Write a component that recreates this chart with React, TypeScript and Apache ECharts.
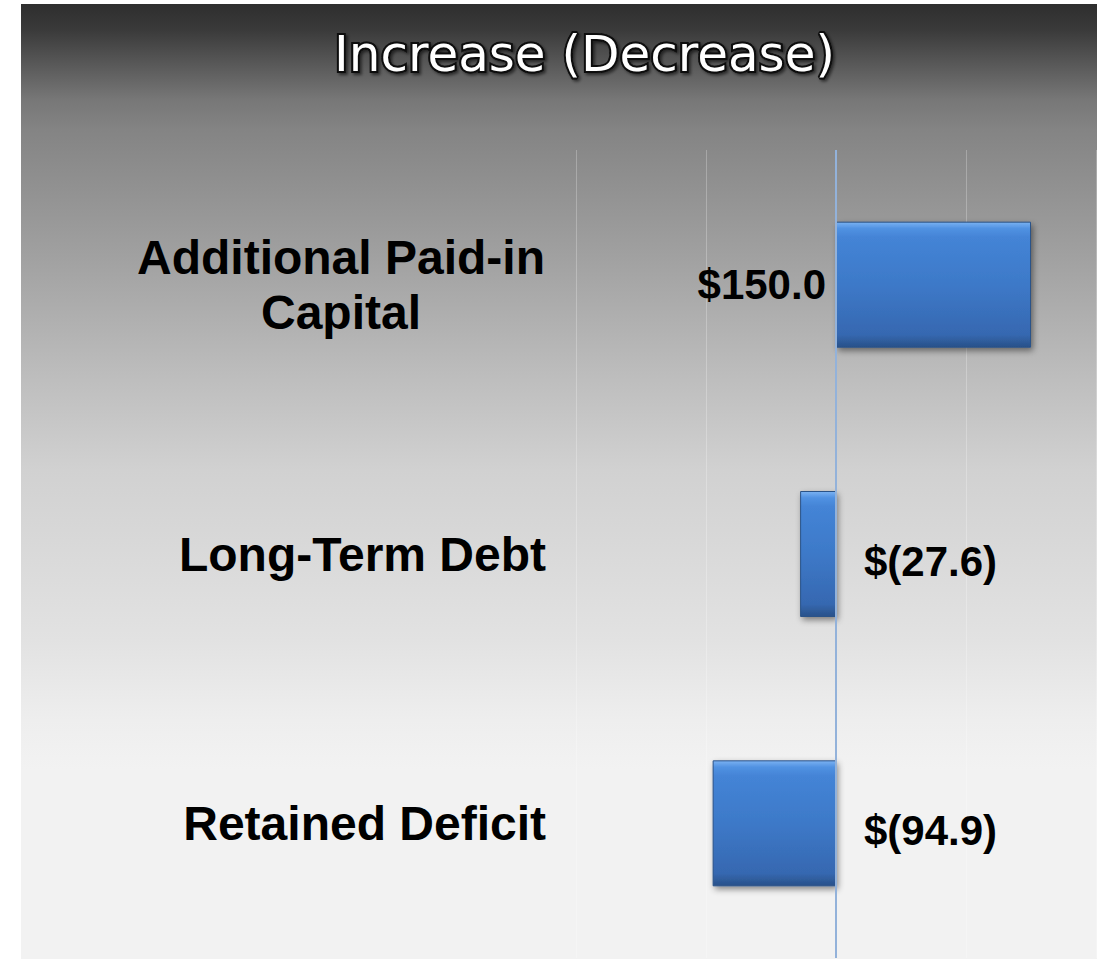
import React, { useEffect, useRef } from "react";
import * as echarts from "echarts";

const categories = ["Additional Paid-in\nCapital", "Long-Term Debt", "Retained Deficit"];
const values = [150.0, -27.6, -94.9];
const axisMin = -200;
const axisMax = 200;
const axisInterval = 100;
const titleText = "Increase (Decrease)";

const fmt = (v: number) => (v >= 0 ? `$${v.toFixed(1)}` : `$(${Math.abs(v).toFixed(1)})`);

export default function App() {
  const ref = useRef<HTMLDivElement>(null);
  useEffect(() => {
    if (!ref.current) return;
    const chart = echarts.init(ref.current, undefined, { renderer: "svg" });
    const labelFont = "'Liberation Sans', Arial, sans-serif";
    chart.setOption({
      animation: false,
      backgroundColor: "transparent",
      title: {
        text: titleText,
        left: 329,
        top: 24,
        textStyle: {
          fontFamily: "'DejaVu Sans', sans-serif",
          fontSize: 50,
          fontWeight: "normal",
          color: "#ffffff",
          textBorderColor: "#0a0a0a",
          textBorderWidth: 4,
          textShadowColor: "rgba(0,0,0,0.55)",
          textShadowBlur: 3,
          textShadowOffsetX: 2,
          textShadowOffsetY: 2,
        },
      },
      grid: { left: 576, right: 10, top: 150, bottom: 1, containLabel: false },
      xAxis: {
        type: "value",
        min: axisMin,
        max: axisMax,
        interval: axisInterval,
        axisLine: { show: false },
        axisTick: { show: false },
        axisLabel: { show: false },
        splitLine: { show: true, lineStyle: { color: "rgba(255,255,255,0.25)", width: 1 } },
      },
      yAxis: {
        type: "category",
        data: categories,
        inverse: true,
        axisLine: { show: false, onZero: false },
        axisTick: { show: false },
        splitLine: { show: false },
        axisLabel: {
          margin: 30,
          color: "#000",
          fontFamily: labelFont,
          fontSize: 48,
          fontWeight: "bold",
          lineHeight: 55,
          formatter: (v: string) =>
            v.includes("\n")
              ? v
                  .split("\n")
                  .map((s) => `{c|${s}}`)
                  .join("\n")
              : `{r|${v}}`,
          rich: {
            c: {
              width: 410,
              align: "center",
              color: "#000",
              fontFamily: labelFont,
              fontSize: 48,
              fontWeight: "bold",
              lineHeight: 55,
            },
            r: {
              color: "#000",
              fontFamily: labelFont,
              fontSize: 48,
              fontWeight: "bold",
              lineHeight: 55,
            },
          },
        },
      },
      series: [
        {
          type: "bar",
          barWidth: 126,
          data: values.map((v) => ({
            value: v,
            label:
              v >= 0
                ? { position: "left", distance: 10, offset: [0, 0] }
                : { position: "right", distance: 28, offset: [0, 7] },
          })),
          itemStyle: {
            color: {
              type: "linear",
              x: 0,
              y: 0,
              x2: 0,
              y2: 1,
              colorStops: [
                { offset: 0, color: "#7ab2f2" },
                { offset: 0.05, color: "#5192e2" },
                { offset: 0.12, color: "#4484d6" },
                { offset: 0.5, color: "#3d79c8" },
                { offset: 0.9, color: "#3668b1" },
                { offset: 0.95, color: "#2f5d9c" },
                { offset: 1, color: "#28508a" },
              ],
            },
            borderColor: "#2a5288",
            borderWidth: 1,
            shadowColor: "rgba(0,0,0,0.45)",
            shadowBlur: 6,
            shadowOffsetX: 2,
            shadowOffsetY: 3,
          },
          label: {
            show: true,
            formatter: (p: any) => fmt(p.value),
            color: "#000",
            fontFamily: labelFont,
            fontSize: 42,
            fontWeight: "bold",
          },
          markLine: {
            silent: true,
            symbol: ["none", "none"],
            label: { show: false },
            lineStyle: { color: "#93b2da", width: 2, type: "solid" },
            data: [{ xAxis: 0 }],
          },
        },
      ],
    });
    return () => chart.dispose();
  }, []);

  return (
    <div style={{ position: "fixed", left: 0, top: 0, width: 1106, height: 959, background: "#ffffff" }}>
      <div
        style={{
          position: "absolute",
          left: 21,
          top: 4,
          width: 1076,
          height: 955,
          background:
            "linear-gradient(to bottom, #2e2e2e 0%, #3a3a3a 2.7%, #555555 5.9%, #777777 10%, #848484 13.2%, #9f9f9f 25.7%, #bebebe 39.4%, #d1d1d1 48.8%, #e2e2e2 66.6%, #eeeeee 75%, #f2f2f2 80.2%, #f2f2f2 100%)",
        }}
      />
      <div ref={ref} style={{ position: "absolute", left: 0, top: 0, width: 1106, height: 959 }} />
    </div>
  );
}
